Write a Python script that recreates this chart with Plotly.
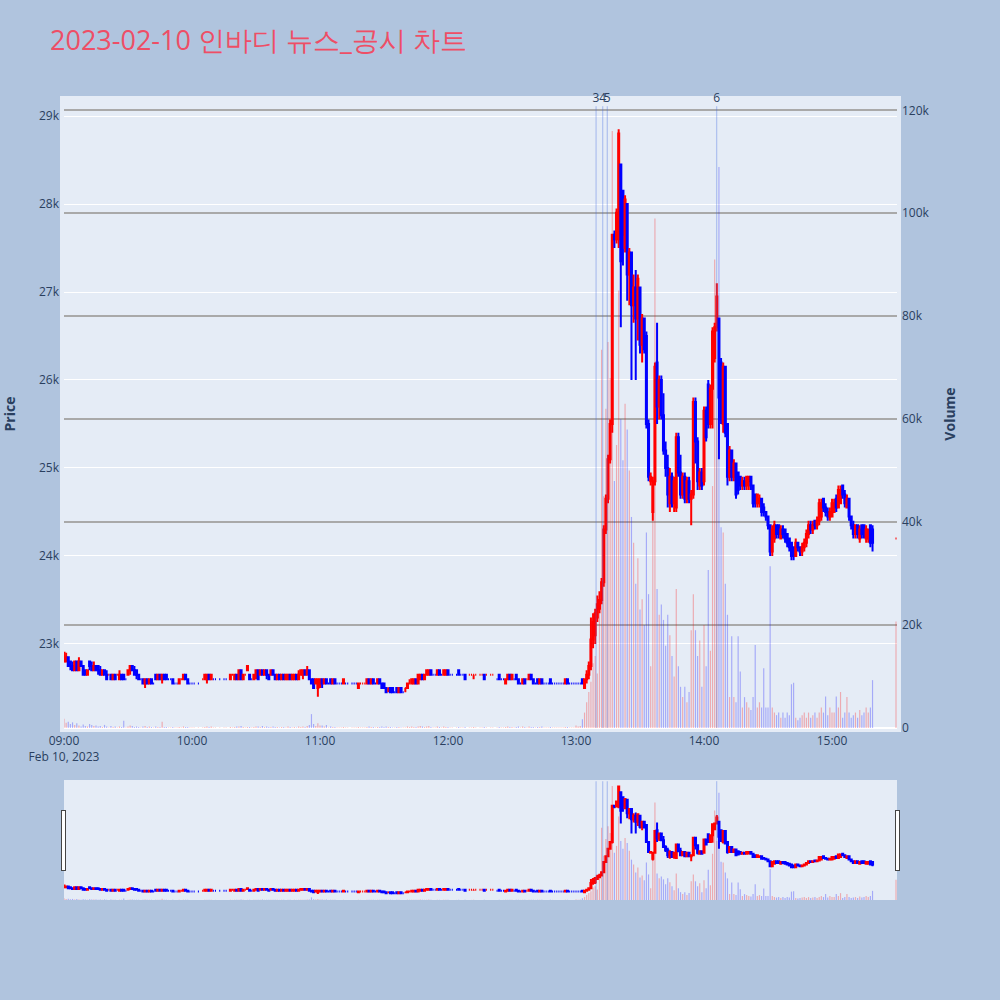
import pandas as pd
import plotly.graph_objects as go
from plotly.subplots import make_subplots

# minute timestamps 09:00..15:19 plus closing auction 15:30
times = list(pd.date_range("2023-02-10 09:00", "2023-02-10 15:19", freq="min")) + [pd.Timestamp("2023-02-10 15:30")]

N = None
opens = [
 22800,22800,22850,22800,22750,22700,22800,22700,22800,22750,
 22700,22650,22800,22750,22700,22750,22750,22700,22650,22700,
 22650,22650,22650,22600,22650,22650,22600,22650,22650,22600,
 22650,22700,22750,22700,22700,22650,22600,22600,22550,22600,
 22550,22600,22550,22650,22600,22650,22600,22650,22650,22600,
 22600,22600,22550,22550,22550,22600,22600,22650,22600,22550,
 22550,22550,N,22550,N,22600,22600,22600,22650,22600,
 22600,22600,N,22600,N,22600,22600,N,22600,22650,
 22600,22650,22600,22700,22600,22650,22700,22650,22600,22600,
 22650,22700,22650,22700,22650,22700,22650,22650,22700,22650,
 22600,22650,22600,22650,22600,22600,22650,22600,22600,22650,
 22600,22650,22650,22700,22650,22700,22600,22600,22550,22500,
 22550,22600,22550,22600,22550,22600,22550,22600,22550,22550,
 22550,22550,22550,22550,N,22550,22550,22550,22500,22550,
 22550,22550,22550,22600,22550,22600,22550,22550,22600,22550,
 22550,22500,22500,22500,22500,22450,22500,22450,22500,22450,
 22500,22500,22550,22550,22550,22600,22550,22600,22650,22600,
 22650,22650,22700,22650,22650,22650,22700,22650,22650,22650,
 22700,22650,22650,N,22650,22700,22650,22650,22650,N,
 22650,22650,22650,22650,N,22650,22650,22650,22650,N,
 22650,22650,N,22600,22650,22600,22600,22550,22600,22650,
 22600,22600,22650,22600,22550,22550,22600,22600,22600,22650,
 22600,22550,22600,22550,22600,22550,22550,22550,22600,22550,
 22550,22550,22550,22550,22550,22550,22600,22550,22550,22550,
 22550,22550,22550,22600,22500,22600,22650,22750,23050,23100,
 23300,23400,23500,23700,24300,24650,25100,25500,27650,27600,
 27600,28450,28150,27500,28000,27200,27450,26850,27050,26700,
 27050,26400,26700,26500,25500,24850,24500,24850,26200,25700,
 26000,25600,25200,25000,24600,24900,24600,24550,25350,24950,
 24700,24900,24650,24850,24650,24700,25750,25300,24800,24950,
 24850,25650,25950,25500,25900,26250,26600,26700,26200,25500,
 26150,25500,24900,25200,24900,25050,24950,24900,24800,24850,
 24800,24850,24900,24800,24700,24600,24600,24650,24550,24500,
 24450,24350,24050,24200,24350,24350,24200,24300,24300,24250,
 24200,24150,24100,24000,24150,24100,24050,24100,24150,24250,
 24350,24300,24400,24350,24400,24450,24650,24550,24500,24450,
 24450,24500,24650,24550,24600,24800,24700,24550,24650,24450,
 24350,24250,24350,24200,24350,24350,24200,24200,24350,24300,
 24200,
]
highs = [
 22900,22900,22850,22800,22800,22800,22800,22850,22800,22750,
 22700,22700,22800,22800,22800,22750,22750,22750,22700,22700,
 22700,22650,22650,22650,22650,22650,22700,22650,22650,22600,
 22700,22750,22750,22750,22700,22650,22600,22600,22600,22600,
 22600,22600,22550,22650,22650,22650,22650,22650,22650,22600,
 22600,22600,22550,22550,22600,22600,22650,22650,22600,22550,
 22550,22550,N,22550,N,22600,22650,22650,22650,22650,
 22600,22600,N,22600,N,22600,22600,N,22650,22650,
 22650,22650,22700,22700,22650,22650,22750,22650,22600,22650,
 22700,22700,22700,22700,22700,22700,22650,22700,22700,22650,
 22650,22650,22650,22650,22650,22650,22650,22650,22650,22650,
 22700,22700,22700,22700,22750,22700,22600,22600,22600,22600,
 22600,22600,22600,22600,22550,22600,22600,22600,22550,22550,
 22550,22600,22550,22550,N,22550,22550,22550,22550,22550,
 22550,22550,22600,22600,22600,22600,22550,22600,22600,22550,
 22550,22500,22500,22500,22500,22450,22500,22500,22500,22450,
 22500,22550,22600,22600,22600,22600,22650,22650,22650,22650,
 22700,22700,22700,22650,22650,22700,22700,22650,22700,22700,
 22700,22650,22650,N,22650,22700,22650,22650,22650,N,
 22650,22650,22650,22650,N,22650,22650,22650,22650,N,
 22650,22650,N,22600,22650,22600,22600,22600,22650,22650,
 22650,22600,22650,22600,22550,22600,22600,22600,22650,22650,
 22600,22550,22600,22600,22600,22550,22550,22550,22600,22550,
 22550,22550,22550,22550,22550,22600,22600,22550,22550,22550,
 22550,22550,22550,22600,22600,22700,22800,23300,23350,23400,
 23550,23600,23750,24350,24700,25150,25550,27650,27700,27950,
 28850,28450,28150,28100,28000,27500,27450,27200,27250,27200,
 27050,26750,26700,26550,25550,24950,24900,26200,26650,26050,
 26050,25850,25300,25150,25000,24950,24900,25400,25400,25150,
 24950,24950,24900,24900,24750,25800,25800,25350,25000,25000,
 25700,25700,26000,25950,26600,26650,27100,26700,26250,26200,
 26150,25500,25250,25200,25100,25050,24950,24900,24900,24900,
 24900,24900,24900,24800,24700,24700,24700,24650,24600,24500,
 24450,24350,24350,24400,24350,24350,24350,24350,24300,24250,
 24200,24150,24100,24200,24150,24100,24150,24200,24300,24400,
 24400,24400,24400,24450,24650,24650,24650,24600,24550,24550,
 24650,24650,24700,24800,24800,24800,24750,24700,24650,24450,
 24400,24350,24350,24350,24350,24350,24350,24300,24350,24350,
 24200,
]
lows = [
 22800,22800,22750,22700,22700,22700,22700,22700,22750,22650,
 22650,22650,22700,22700,22700,22700,22650,22650,22650,22650,
 22600,22650,22600,22600,22600,22650,22600,22600,22600,22600,
 22650,22650,22700,22650,22600,22600,22600,22550,22500,22550,
 22550,22550,22550,22600,22600,22600,22550,22600,22600,22600,
 22600,22550,22550,22550,22550,22600,22600,22600,22550,22550,
 22550,22550,N,22550,N,22600,22600,22550,22600,22600,
 22600,22600,N,22600,N,22600,22600,N,22600,22650,
 22600,22600,22600,22600,22600,22650,22700,22600,22600,22600,
 22600,22600,22650,22650,22650,22600,22600,22650,22650,22600,
 22600,22600,22600,22600,22600,22600,22600,22600,22600,22600,
 22600,22650,22600,22650,22650,22600,22550,22500,22550,22400,
 22500,22500,22550,22550,22550,22550,22550,22550,22550,22550,
 22550,22550,22550,22550,N,22550,22550,22550,22500,22550,
 22550,22550,22550,22550,22550,22550,22550,22550,22550,22500,
 22500,22450,22450,22450,22450,22450,22450,22450,22450,22450,
 22450,22500,22550,22550,22550,22550,22550,22600,22600,22600,
 22650,22650,22650,22650,22650,22650,22650,22650,22650,22650,
 22650,22650,22650,N,22650,22650,22650,22650,22600,N,
 22650,22650,22600,22650,N,22650,22650,22600,22650,N,
 22650,22650,N,22600,22600,22600,22600,22550,22600,22600,
 22600,22600,22600,22550,22550,22550,22550,22600,22600,22600,
 22550,22550,22550,22550,22550,22550,22550,22550,22550,22550,
 22550,22550,22550,22550,22550,22550,22550,22550,22550,22550,
 22550,22550,22550,22550,22500,22550,22600,22700,22950,23000,
 23250,23350,23450,23650,24250,24600,25050,25400,27500,27550,
 27500,26600,27300,27450,26900,26850,26000,26650,26000,26450,
 26300,26200,26300,25450,24850,24800,24400,24800,25500,25550,
 25550,25150,24900,24550,24500,24550,24500,24500,24900,24650,
 24650,24600,24600,24600,24350,24650,25050,24750,24750,24750,
 24800,25300,25450,25450,25450,26200,26550,25100,25500,25400,
 25350,24800,24850,24850,24850,24650,24700,24750,24750,24750,
 24750,24750,24750,24550,24550,24550,24550,24450,24450,24400,
 24300,24000,24000,24150,24200,24200,24200,24200,24150,24100,
 24050,23950,23950,24000,24050,24000,24000,24050,24100,24200,
 24250,24250,24300,24300,24350,24400,24500,24450,24400,24400,
 24450,24500,24500,24550,24600,24650,24550,24550,24400,24300,
 24200,24200,24200,24150,24200,24200,24150,24150,24100,24050,
 24200,
]
closes = [
 22900,22850,22750,22750,22700,22800,22700,22800,22750,22650,
 22650,22700,22750,22700,22750,22700,22700,22650,22700,22650,
 22600,22650,22600,22650,22600,22650,22650,22600,22600,22600,
 22700,22750,22700,22650,22650,22600,22600,22550,22600,22550,
 22600,22550,22550,22600,22650,22600,22650,22600,22600,22600,
 22600,22550,22550,22550,22600,22600,22650,22600,22550,22550,
 22550,22550,N,22550,N,22600,22650,22650,22600,22650,
 22600,22600,N,22600,N,22600,22600,N,22650,22650,
 22650,22600,22700,22600,22650,22650,22750,22600,22600,22650,
 22700,22600,22700,22650,22700,22650,22600,22700,22650,22600,
 22650,22600,22650,22600,22650,22650,22600,22650,22650,22600,
 22650,22700,22700,22650,22700,22600,22550,22500,22600,22600,
 22600,22550,22600,22550,22550,22550,22600,22550,22550,22550,
 22550,22600,22550,22550,N,22550,22550,22550,22550,22550,
 22550,22550,22600,22550,22600,22550,22550,22600,22550,22500,
 22500,22450,22500,22450,22450,22450,22450,22500,22450,22450,
 22500,22550,22550,22600,22600,22550,22650,22650,22600,22650,
 22700,22700,22650,22650,22650,22700,22650,22650,22700,22700,
 22650,22650,22650,N,22650,22650,22650,22650,22600,N,
 22650,22650,22650,22650,N,22650,22650,22600,22650,N,
 22650,22650,N,22600,22600,22600,22600,22600,22650,22600,
 22650,22600,22600,22550,22550,22600,22550,22600,22650,22600,
 22550,22550,22550,22600,22550,22550,22550,22550,22550,22550,
 22550,22550,22550,22550,22550,22600,22550,22550,22550,22550,
 22550,22550,22550,22550,22600,22650,22750,23050,23250,23350,
 23450,23500,23700,24300,24650,25100,25500,27650,27600,27900,
 28800,27350,27650,28050,27200,27450,26850,27050,26700,27150,
 26400,26700,26350,25500,24900,24900,24850,26150,25700,26000,
 25600,25200,25000,24700,24900,24600,24850,25350,24950,24700,
 24900,24650,24850,24650,24700,25750,25300,24850,24950,24800,
 25650,25350,25500,25900,26550,26600,26950,25800,25550,26150,
 25400,24900,25200,24900,25050,24700,24750,24800,24850,24800,
 24900,24900,24800,24600,24600,24700,24650,24500,24500,24450,
 24350,24050,24300,24350,24250,24250,24300,24250,24200,24150,
 24100,24000,24000,24150,24100,24050,24100,24150,24250,24350,
 24300,24350,24350,24400,24600,24600,24550,24500,24450,24500,
 24600,24600,24550,24750,24750,24700,24600,24650,24450,24350,
 24250,24350,24250,24300,24250,24250,24300,24300,24150,24150,
 24200,
]
volumes = [
 1800,1000,1200,800,1100,600,900,500,300,700,
 400,300,800,600,400,500,300,400,200,600,
 300,100,400,200,300,100,300,200,1400,100,
 300,500,400,200,300,200,100,300,400,200,
 300,200,100,300,200,200,1200,200,200,100,
 100,200,100,100,200,100,300,200,200,100,
 100,100,N,100,N,100,200,300,200,300,
 100,100,N,100,N,100,100,N,200,100,
 200,300,300,400,200,100,200,200,100,200,
 300,300,200,400,200,300,200,200,300,200,
 200,100,200,200,100,300,200,100,200,100,
 300,200,300,200,400,600,2700,800,400,900,
 500,500,300,600,100,300,200,200,100,100,
 100,200,100,100,N,100,100,100,200,100,
 100,100,200,300,200,200,100,200,200,300,
 200,300,200,200,100,100,200,200,100,100,
 100,300,200,300,200,200,300,400,300,200,
 300,400,200,100,100,300,200,100,300,200,
 200,100,100,N,100,200,100,100,200,N,
 100,100,200,100,N,100,100,200,100,N,
 100,100,N,100,200,100,100,200,300,200,
 200,100,200,300,100,300,200,100,300,200,
 200,100,200,200,300,100,100,100,200,100,
 100,100,100,100,100,200,200,100,100,100,
 500,300,400,1700,3000,5000,7000,9000,12600,14000,
 10600,25000,73500,45000,62000,75000,68000,116000,48000,55000,
 85000,60000,52000,63000,58000,50000,41000,36000,28000,33000,
 23000,25000,20000,38000,26000,12000,48000,99000,27000,22000,
 24000,21000,16000,22000,18000,14000,10000,27000,12000,8000,
 6000,8000,5000,7000,19000,26000,19000,14000,17000,8000,
 20000,12000,30700,15000,47000,91000,60000,109000,39000,38000,
 28000,22000,6000,17800,6000,5000,17800,11000,4000,6000,
 5000,4000,3500,6000,16100,4000,5000,4000,11600,4000,
 4000,31400,4000,3000,2500,3000,2000,3000,2000,3000,
 2500,8500,8800,2000,1500,2000,2500,3000,2000,3000,
 2000,2500,3000,2000,3000,4000,3000,6100,2500,4000,
 3000,3000,6100,4000,7000,2000,3000,6000,3000,2000,
 2500,3000,2000,3500,2500,3000,4000,3000,4000,9300,
 20700,
]

# news / disclosure markers
news_times = ["2023-02-10 13:09:25", "2023-02-10 13:12:30", "2023-02-10 13:14:40", "2023-02-10 14:05:55"]
news_labels = ["3", "4", "5", "6"]
news_level = 120800

x_range = ["2023-02-10 09:00:00", "2023-02-10 15:30:28"]
price_range = [22045, 29182]
volume_range = [0, 122000]

vol_colors = ["rgba(255,0,0,0.28)" if (o is not None and c >= o) else "rgba(0,0,255,0.28)"
              for o, c in zip(opens, closes)]

fig = make_subplots(specs=[[{"secondary_y": True}]])
fig.add_trace(go.Candlestick(
    x=times, open=opens, high=highs, low=lows, close=closes,
    increasing=dict(line=dict(color="red"), fillcolor="red"),
    decreasing=dict(line=dict(color="blue"), fillcolor="blue"),
    showlegend=False, name="Price"), secondary_y=False)
fig.add_trace(go.Bar(
    x=times, y=volumes, width=33000, marker=dict(color=vol_colors, line=dict(width=0)),
    showlegend=False, name="Volume"), secondary_y=True)
fig.add_trace(go.Bar(
    x=news_times, y=[news_level] * len(news_times), width=36000,
    marker=dict(color="rgba(65,105,225,0.32)", line=dict(width=0)),
    text=news_labels, textposition="outside", constraintext="none", cliponaxis=False,
    textfont=dict(size=12, color="#2a3f5f"), showlegend=False, name="news"), secondary_y=True)

fig.update_layout(
    width=1000, height=1000,
    autosize=False,
    paper_bgcolor="lightsteelblue",
    plot_bgcolor="#E5ECF6",
    title=dict(text="2023-02-10 인바디 뉴스_공시 차트", x=0.05, y=0.959, yanchor="middle",
               font=dict(size=27, color="#EE4E66")),
    margin=dict(l=64, r=103, t=100, b=100, pad=4),
    barmode="overlay",
    showlegend=False,
)
fig.update_xaxes(range=x_range, domain=[0, 1], showgrid=False, automargin=False,
                 rangeslider=dict(visible=True, range=x_range))
fig.update_yaxes(title=dict(text="<b>Price</b>", standoff=24), range=price_range,
                 gridcolor="white", automargin=False, secondary_y=False)
fig.update_yaxes(title=dict(text="<b>Volume</b>", standoff=20), range=volume_range,
                 gridcolor="darkgray", gridwidth=2, automargin=False, secondary_y=True)

fig.write_html(
    "out.html",
    config={"displayModeBar": False},
    post_script="document.body.style.margin='0';document.body.style.overflow='hidden';",
)
